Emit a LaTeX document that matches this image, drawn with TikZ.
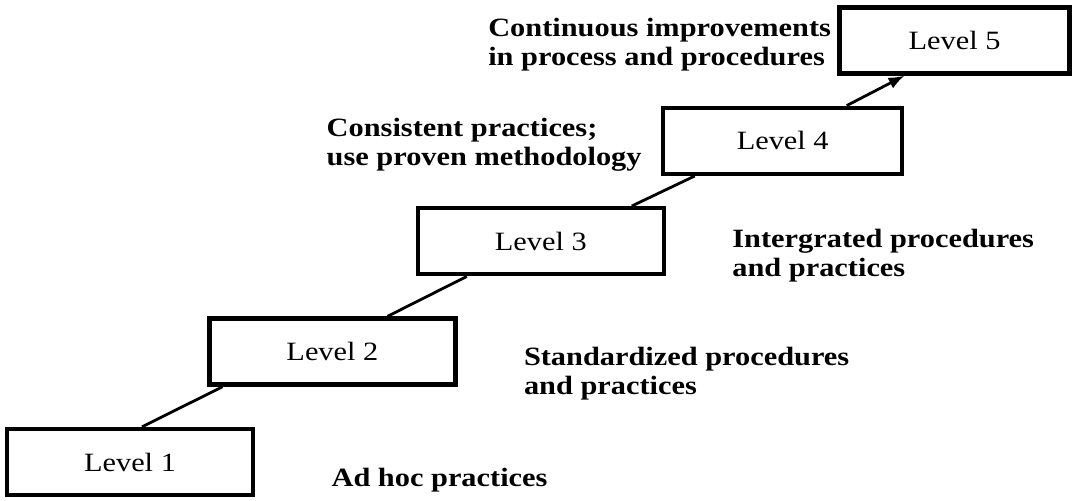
\documentclass[tikz,border=0pt]{standalone}
\usepackage{fontspec}
\setmainfont{Liberation Serif}[FakeStretch=1.15]
\usetikzlibrary{positioning, arrows.meta}

\begin{document}
\begin{tikzpicture}[x=0.5pt, y=-0.5pt,
  level/.style={rectangle, draw=black, line width=2.2pt, minimum width=123pt,
                minimum height=33pt, inner sep=0pt, font=\fontsize{13.2}{14.5}\selectfont},
  note/.style={align=left, inner sep=0pt, font=\fontsize{13.2}{14.5}\selectfont\bfseries},
  link/.style={line width=1.4pt},
  arrow/.style={-{Latex[length=8pt, width=6pt]}, line width=1.4pt}]

\useasboundingbox (0,0) rectangle (1091,500);

\node[level] (l1) at (130,462) {Level 1};
\node[level, above right=20pt and -24pt of l1] (l2) {Level 2};
\node[level, above right=20pt and -21pt of l2] (l3) {Level 3};
\node[level, above right=15pt and -2.5pt of l3, minimum width=119.5pt] (l4) {Level 4};
\node[level, above right=15pt and -33.5pt of l4, minimum width=115pt] (l5) {Level 5};

\node[note, right=38pt of l1, yshift=-9pt] (adhoc) {Ad hoc practices};
\node[note, right=33pt of l2, yshift=-11pt] (std) {Standardized procedures\\and practices};
\node[note, right=33pt of l3, yshift=-7pt] (intg) {Intergrated procedures\\and practices};
\node[note, left=9.5pt of l4, yshift=-2pt] (cons) {Consistent practices;\\use proven methodology};
\node[note, left=3pt of l5, yshift=-2pt] (cont) {Continuous improvements\\in process and procedures};

\draw[link] ([xshift=6pt]l1.north) -- ([xshift=-55pt]l2.south);
\draw[link] ([xshift=27.5pt]l2.north) -- ([xshift=-37pt]l3.south);
\draw[link] ([xshift=45.5pt]l3.north) -- ([xshift=-44pt]l4.south);
\draw[arrow] ([xshift=32pt]l4.north) -- ([xshift=-25pt]l5.south);
\end{tikzpicture}
\end{document}
